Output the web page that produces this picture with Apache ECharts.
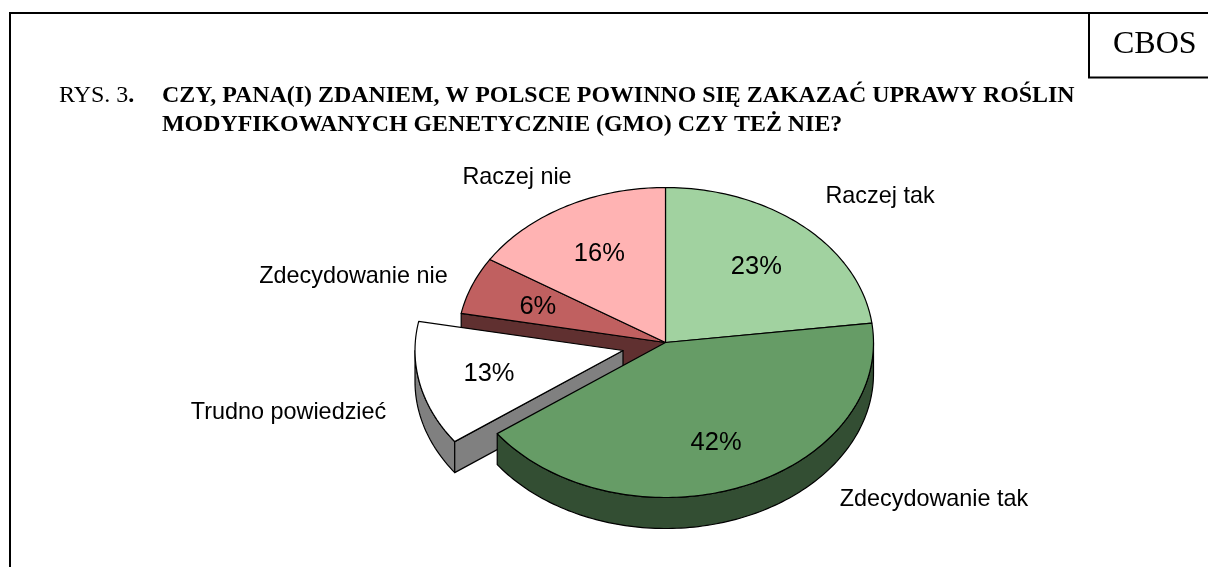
<!DOCTYPE html>
<html><head><meta charset="utf-8">
<style>html,body{margin:0;padding:0;background:#fff}#c{width:1208px;height:567px}</style>
<script src="https://cdn.jsdelivr.net/npm/echarts@6/dist/echarts.min.js"></script>
</head><body><div id="c"></div>
<script>
const categories = ['Raczej tak','Zdecydowanie tak','Trudno powiedzieć','Zdecydowanie nie','Raczej nie'];
const shares = [23,42,13,6,16];
const exploded = [false,false,true,false,false];
const topColors = ['#A1D2A0','#669C66','#FFFFFF','#C06060','#FFB3B3'];
const wallColors = ['#50694F','#334E33','#808080','#603030','#805959'];
const labelCenters = [[880,197],[934,500],[288.5,413],[353.5,277],[517,178]];
const percentNudge = [0,4,0,1,0];
const titleLines = ['CZY, PANA(I) ZDANIEM, W POLSCE POWINNO SIĘ ZAKAZAĆ UPRAWY ROŚLIN','MODYFIKOWANYCH GENETYCZNIE (GMO) CZY TEŻ NIE?'];

const C = {x:665.5,y:342.5,rx:208,ry:155,depth:31,ox:-42.5,oy:8};
const total = shares.reduce((a,b)=>a+b,0);
const toT = p => p/total*Math.PI*2;
const sum = i => shares.slice(0,i).reduce((a,b)=>a+b,0);
function pt(t,cx,cy,f){f=f==null?1:f;return [cx+C.rx*f*Math.sin(t),cy-C.ry*f*Math.cos(t)];}
function arc(a,b,cx,cy){const n=Math.max(2,Math.ceil(Math.abs(b-a)*48)),o=[];for(let i=0;i<=n;i++)o.push(pt(a+(b-a)*i/n,cx,cy));return o;}
const stroke={stroke:'#000',lineWidth:1.2,lineJoin:'round'};
function renderItem(params,api){
  const i=params.dataIndex, v=api.value(0);
  const a=toT(sum(i)), b=a+toT(v);
  const cx=C.x+(exploded[i]?C.ox:0), cy=C.y+(exploded[i]?C.oy:0);
  const d=C.depth, els=[];
  const base=exploded[i]?2:10;
  const face=(points,fill,z)=>els.push({type:'polygon',shape:{points},style:Object.assign({fill},stroke),z2:z});
  const wa=Math.max(a,Math.PI/2), wb=Math.min(b,Math.PI*1.5);
  if(wb>wa){const r=arc(wa,wb,cx,cy);const s=r.map(p=>[p[0],p[1]+d]).reverse();face(r.concat(s),wallColors[i],base);}
  const prevExpl=exploded[(i-1+shares.length)%shares.length];
  if(exploded[i]){const e=pt(a,cx,cy);face([[cx,cy],e,[e[0],e[1]+d],[cx,cy+d]],wallColors[i],base+1);}
  if(prevExpl){const e=pt(a,cx,cy);face([[cx,cy],e,[e[0],e[1]+d],[cx,cy+d]],wallColors[i],1);}
  face([[cx,cy]].concat(arc(a,b,cx,cy)),topColors[i],base+2);
  const m=(a+b)/2, lp=pt(m,cx,cy,0.66);
  els.push({type:'text',z2:50,style:{text:v+'%',x:lp[0],y:lp[1]+1+percentNudge[i],align:'center',verticalAlign:'middle',fill:'#000',font:'25.5px "Liberation Sans", Arial, sans-serif'}});
  els.push({type:'text',z2:50,style:{text:categories[i],x:labelCenters[i][0],y:labelCenters[i][1],align:'center',verticalAlign:'middle',fill:'#000',font:'23.4px "Liberation Sans", Arial, sans-serif'}});
  return {type:'group',children:els};
}
const chart=echarts.init(document.getElementById('c'),null,{renderer:'canvas'});
const serif='"Liberation Serif","Times New Roman",serif';
const ts=(fs,fw)=>({fontFamily:serif,fontSize:fs,fontWeight:fw,color:'#000'});
chart.setOption({
  animation:false,
  backgroundColor:'#fff',
  title:[
    {text:'{a|RYS. 3}{b|.}',left:59,top:84,padding:0,textStyle:{rich:{a:ts(24,'normal'),b:ts(24,'bold')}}},
    {text:titleLines[0],left:162,top:84,padding:0,textStyle:ts(23.9,'bold')},
    {text:titleLines[1],left:162,top:113,padding:0,textStyle:ts(23.9,'bold')},
    {text:'CBOS',left:1113,top:29,padding:0,textStyle:ts(32,'normal')}
  ],
  graphic:[
    {type:'polyline',shape:{points:[[10,567],[10,13],[1208,13]]},style:{stroke:'#000',lineWidth:2,fill:null},silent:true},
    {type:'polyline',shape:{points:[[1089,13],[1089,77.5],[1208,77.5]]},style:{stroke:'#000',lineWidth:2,fill:null},silent:true}
  ],
  series:[{type:'custom',coordinateSystem:'none',renderItem,data:shares.map((v,i)=>({name:categories[i],value:[v]})),silent:true}]
});
</script></body></html>
